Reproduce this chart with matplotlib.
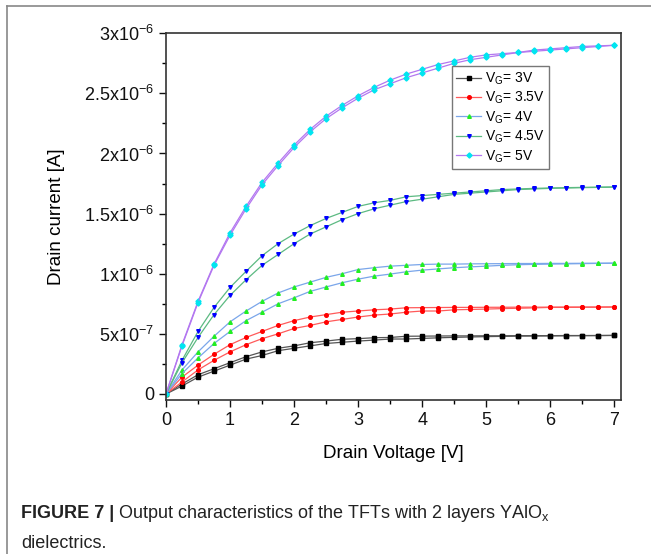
import numpy as np
import matplotlib
matplotlib.use('Agg')
import matplotlib.pyplot as plt
from matplotlib.lines import Line2D
from matplotlib.ticker import MultipleLocator

plt.rcParams['font.family'] = ['Liberation Sans', 'DejaVu Sans']
plt.rcParams['mathtext.fontset'] = 'custom'
plt.rcParams['mathtext.rm'] = 'Liberation Sans'
plt.rcParams['mathtext.it'] = 'Liberation Sans:italic'

# drain voltage sweep, 0.25 V steps
vd = np.arange(29) * 0.25

# drain current (x1e-6 A), two sweeps per gate voltage
vg3_a = [0, .083, .16, .21, .26, .31, .35, .38, .40, .426, .44, .455, .46, .468, .47,
         .48, .481, .482, .483, .483, .484, .484, .485, .485, .485, .486, .486, .486, .487]
vg3_b = [0, .066, .14, .19, .24, .29, .32, .36, .38, .40, .42, .43, .44, .448, .457,
         .457, .462, .467, .471, .474, .477, .479, .481, .482, .483, .484, .485, .486, .487]
vg35_a = [0, .14, .24, .33, .41, .47, .52, .57, .61, .64, .66, .68, .69, .70, .706,
          .717, .718, .719, .72, .72, .721, .721, .722, .722, .722, .723, .723, .723, .724]
vg35_b = [0, .10, .20, .28, .35, .41, .46, .50, .545, .57, .60, .62, .64, .656, .665,
          .68, .69, .69, .70, .703, .706, .71, .713, .716, .72, .72, .721, .722, .723]
vg4_a = [0, .20, .35, .48, .60, .69, .77, .84, .89, .93, .97, 1.00, 1.035, 1.05, 1.063,
         1.07, 1.077, 1.08, 1.08, 1.082, 1.083, 1.084, 1.085, 1.085, 1.086, 1.086, 1.087, 1.087, 1.088]
vg4_b = [0, .17, .30, .42, .52, .61, .68, .75, .80, .853, .89, .925, .955, .98, .997,
         1.016, 1.03, 1.04, 1.05, 1.057, 1.063, 1.07, 1.075, 1.078, 1.08, 1.082, 1.084, 1.086, 1.088]
vg45_a = [0, .28, .52, .72, .886, 1.02, 1.15, 1.25, 1.33, 1.40, 1.46, 1.51, 1.56, 1.59, 1.61,
          1.64, 1.65, 1.66, 1.67, 1.68, 1.69, 1.70, 1.705, 1.71, 1.713, 1.716, 1.718, 1.72, 1.722]
vg45_b = [0, .26, .47, .66, .82, .95, 1.07, 1.16, 1.25, 1.33, 1.39, 1.45, 1.50, 1.54, 1.57,
          1.60, 1.62, 1.64, 1.66, 1.67, 1.68, 1.69, 1.70, 1.705, 1.71, 1.713, 1.716, 1.718, 1.72]
vg5_a = [0, .41, .77, 1.08, 1.34, 1.56, 1.76, 1.92, 2.07, 2.20, 2.31, 2.40, 2.48, 2.55, 2.61,
         2.66, 2.70, 2.74, 2.77, 2.80, 2.82, 2.83, 2.84, 2.86, 2.87, 2.88, 2.89, 2.895, 2.90]
vg5_b = [0, .40, .76, 1.07, 1.32, 1.54, 1.74, 1.90, 2.05, 2.18, 2.29, 2.38, 2.46, 2.53, 2.58,
         2.63, 2.67, 2.71, 2.75, 2.78, 2.80, 2.82, 2.84, 2.85, 2.86, 2.87, 2.88, 2.89, 2.90]

labels = ['V$_\\mathregular{G}$= 3V', 'V$_\\mathregular{G}$= 3.5V', 'V$_\\mathregular{G}$= 4V',
          'V$_\\mathregular{G}$= 4.5V', 'V$_\\mathregular{G}$= 5V']
curves = [(vg3_a, vg3_b), (vg35_a, vg35_b), (vg4_a, vg4_b), (vg45_a, vg45_b), (vg5_a, vg5_b)]
line_colors = ['#555555', '#ff5a5a', '#7aa6ea', '#5cba82', '#b377f0']
mark_colors = ['#000000', '#ff0000', '#22ee22', '#0000ff', '#00e5f0']
markers = ['s', 'o', '^', 'v', 'D']

ytick_vals = [0, 0.5e-6, 1e-6, 1.5e-6, 2e-6, 2.5e-6, 3e-6]
ytick_labels = ['0', '5x10$^{\\mathregular{-7}}$', '1x10$^{\\mathregular{-6}}$',
                '1.5x10$^{\\mathregular{-6}}$', '2x10$^{\\mathregular{-6}}$',
                '2.5x10$^{\\mathregular{-6}}$', '3x10$^{\\mathregular{-6}}$']

fig = plt.figure(figsize=(6.51, 5.54), dpi=100)
ax = fig.add_axes([0.255, 0.278, 0.6985, 0.662])

for (a, b), lc, mc, m, lab in zip(curves, line_colors, mark_colors, markers, labels):
    ax.plot(vd, np.array(a) * 1e-6, color=lc, lw=0.9, marker=m, ms=2.6,
            mfc=mc, mec=mc, label=lab)
    ax.plot(vd, np.array(b) * 1e-6, color=lc, lw=0.9, marker=m, ms=2.6,
            mfc=mc, mec=mc)

ax.set_xlim(0, 7.1)
ax.set_ylim(-0.05e-6, 3e-6)
ax.set_xticks(range(8))
ax.xaxis.set_minor_locator(MultipleLocator(0.5))
ax.set_yticks(ytick_vals)
ax.set_yticklabels(ytick_labels)
ax.yaxis.set_minor_locator(MultipleLocator(0.25e-6))
ax.tick_params(which='major', direction='out', length=5, width=1, labelsize=13, colors='#111111')
ax.tick_params(which='minor', direction='out', length=3, width=1)
for s in ax.spines.values():
    s.set_linewidth(1.2)
    s.set_color('#333333')

ax.set_xlabel('Drain Voltage [V]', fontsize=13.5, labelpad=12)
ax.set_ylabel('Drain current [A]', fontsize=13.5, labelpad=14)

leg = ax.legend(loc='upper left', bbox_to_anchor=(0.629, 0.91), fontsize=10,
                fancybox=False, edgecolor='#777777', framealpha=1,
                handlelength=1.8, handletextpad=0.3, labelspacing=0.22,
                borderpad=0.3, borderaxespad=0)
leg.get_frame().set_linewidth(1.0)

# outer frame
fig.add_artist(Line2D([7 / 651, 7 / 651], [0, 1 - 6 / 554], transform=fig.transFigure,
                      color='#888888', lw=1.2))
fig.add_artist(Line2D([7 / 651, 1], [1 - 6 / 554, 1 - 6 / 554], transform=fig.transFigure,
                      color='#888888', lw=1.2))

# caption
t1 = fig.text(21 / 651, 1 - 514 / 554, 'FIGURE 7 |', fontsize=13, fontweight='bold',
              va='center', color='#222222')
fig.canvas.draw()
bb = t1.get_window_extent()
fig.text((bb.x1 + 4) / 651, 1 - 514 / 554,
         'Output characteristics of the TFTs with 2 layers YAlO$_\\mathregular{x}$',
         fontsize=13, va='center', color='#222222')
fig.text(21 / 651, 1 - 543 / 554, 'dielectrics.', fontsize=13, va='center', color='#222222')

fig.savefig('out.png', dpi=100)
